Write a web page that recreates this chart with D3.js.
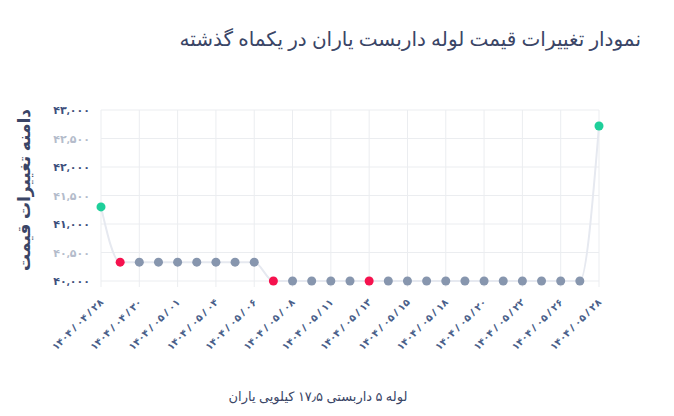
<!DOCTYPE html>
<html><head><meta charset="utf-8">
<script src="https://cdn.jsdelivr.net/npm/d3@7"></script>
<style>body{margin:0;background:#fff;font-family:"Noto Sans","DejaVu Sans",sans-serif}</style>
</head><body><svg id="c" width="674" height="416"></svg>
<script>
const categories = ["1404/04/28","1404/04/29","1404/04/30","1404/04/31","1404/05/01","1404/05/02","1404/05/04","1404/05/05","1404/05/06","1404/05/07","1404/05/08","1404/05/09","1404/05/11","1404/05/12","1404/05/13","1404/05/14","1404/05/15","1404/05/16","1404/05/18","1404/05/19","1404/05/20","1404/05/21","1404/05/22","1404/05/25","1404/05/26","1404/05/27","1404/05/28"];
const prices = [41300,40330,40330,40330,40330,40330,40330,40330,40330,40000,40000,40000,40000,40000,40000,40000,40000,40000,40000,40000,40000,40000,40000,40000,40000,40000,42720];
const yTicks = [40000,40500,41000,41500,42000,42500,43000];
const title = "نمودار تغییرات قیمت لوله داربست یاران در یکماه گذشته";
const yTitle = "دامنه تغییرات قیمت";
const xTitle = "لوله ۵ داربستی ۱۷٫۵ کیلویی یاران";

const fa = s => String(s).replace(/\d/g, d => "۰۱۲۳۴۵۶۷۸۹"[d]);
const svg = d3.select("#c");
const x = d3.scalePoint().domain(categories).range([101, 599]);
const y = d3.scaleLinear().domain([40000, 43000]).range([281, 110]);
const dark = "#3d4f7c", light = "#b4bccb";

svg.append("text").attr("x", 641).attr("y", 46).attr("text-anchor", "start")
  .attr("direction","rtl").attr("font-size", 20).attr("fill", "#3a4566").attr("font-weight", 500).text(title);

const g = svg.append("g");
g.selectAll(".hg").data(yTicks).join("line").attr("x1", 101).attr("x2", 599)
  .attr("y1", d => y(d)).attr("y2", d => y(d)).attr("stroke", "#ebedf0");
const labelled = categories.filter((c, i) => i % 2 === 0);
g.selectAll(".vg").data(labelled).join("line").attr("x1", d => x(d)).attr("x2", d => x(d))
  .attr("y1", 110).attr("y2", 287).attr("stroke", "#ebedf0");

g.selectAll(".yl").data(yTicks).join("text").attr("x", 90).attr("y", d => y(d) + 4)
  .attr("text-anchor", "end").attr("font-size", 11).attr("font-weight", 700)
  .attr("fill", (d, i) => i % 2 ? light : dark).text(d => fa(d3.format(",")(d)));

const LRM = "\u200E";
g.selectAll(".xl").data(labelled).join("text")
  .attr("transform", d => `translate(${x(d)+3},${303}) rotate(-45)`)
  .attr("text-anchor", "end").attr("font-size", 10).attr("font-weight", 700).attr("fill", "#4a5f8a")
  .attr("direction","ltr").style("white-space","pre")
  .text(d => { const p = d.split("/"); return LRM + fa(p[0]) + LRM + " / " + LRM + fa(p[1]) + LRM + " / " + LRM + fa(p[2]) + LRM; });

const line = d3.line().x((d, i) => x(categories[i])).y(d => y(d)).curve(d3.curveMonotoneX);
g.append("path").datum(prices).attr("d", line).attr("fill", "none").attr("stroke", "#e6e9f0").attr("stroke-width", 2);

const red = new Set([1, 9, 14]);
g.selectAll(".pt").data(prices).join("circle").attr("cx", (d, i) => x(categories[i])).attr("cy", d => y(d))
  .attr("r", 4.5).attr("fill", (d, i) => (i === 0 || i === prices.length - 1) ? "#1ecf9a" : red.has(i) ? "#f5124e" : "#8796ae");

svg.append("text").attr("transform", "translate(30,190) rotate(-90)").attr("text-anchor", "middle")
  .attr("direction","rtl").attr("font-size", 17).attr("font-weight", 600).attr("fill", "#3a4566").text(yTitle);
svg.append("text").attr("x", 318).attr("y", 401).attr("text-anchor", "middle").attr("direction","rtl")
  .attr("font-size", 13).attr("fill", "#3a4566").text(xTitle);
</script></body></html>
